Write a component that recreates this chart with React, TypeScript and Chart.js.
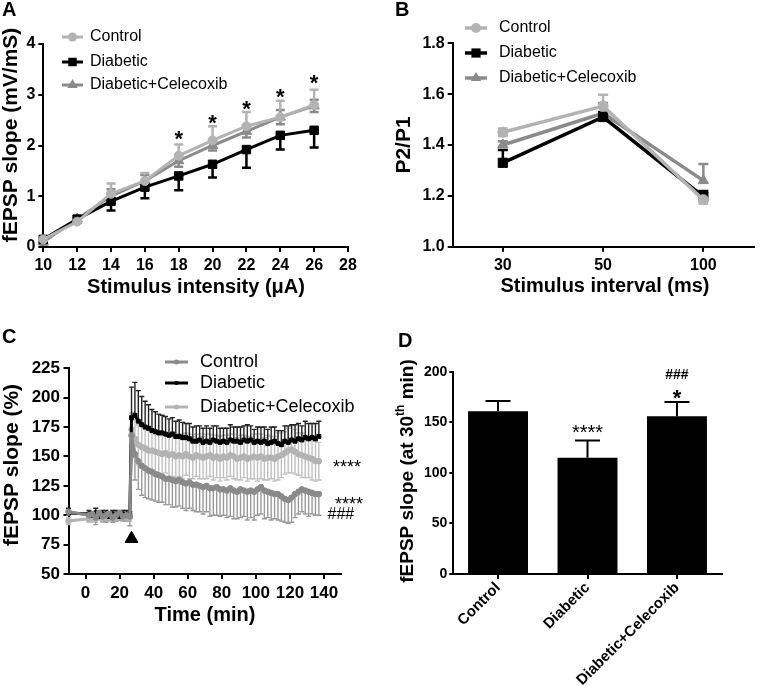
import React, { useEffect, useRef } from 'react';
import { Chart, registerables } from 'chart.js';
Chart.register(...registerables);

const FF = '"Liberation Sans", Arial, Helvetica, sans-serif';

// ---------------- Panel A data ----------------
const intensityA = [10, 12, 14, 16, 18, 20, 22, 24, 26];
const controlA = [0.15, 0.5, 1.05, 1.3, 1.8, 2.1, 2.38, 2.56, 2.8];
const controlErrA = [0.06, 0.06, 0.2, 0.16, 0.22, 0.28, 0.28, 0.32, 0.3];
const diabeticA = [0.15, 0.55, 0.9, 1.18, 1.4, 1.63, 1.92, 2.2, 2.3];
const diabeticErrA = [0.05, 0.06, 0.18, 0.22, 0.28, 0.26, 0.36, 0.28, 0.34];
const celecoxibA = [0.1, 0.55, 1.0, 1.3, 1.7, 2.0, 2.28, 2.56, 2.78];
const celecoxibErrA = [0.05, 0.05, 0.14, 0.12, 0.12, 0.1, 0.12, 0.14, 0.12];
const xTicksA = [10, 12, 14, 16, 18, 20, 22, 24, 26, 28];
const yTicksA = [0, 1, 2, 3, 4];
const starXA = [18, 20, 22, 24, 26];
const starYA = [2.24, 2.56, 2.83, 3.06, 3.34];

// ---------------- Panel B data ----------------
const intervalsB = ['30', '50', '100'];
const controlB = [1.45, 1.553, 1.185];
const controlErrB = [0.015, 0.045, 0.015];
const diabeticB = [1.33, 1.51, 1.197];
const diabeticErrB = [0.05, 0.02, 0.022];
const celecoxibB = [1.4, 1.525, 1.26];
const celecoxibErrB = [0.015, 0.04, 0.065];
const yTicksB = [1.0, 1.2, 1.4, 1.6, 1.8];

// ---------------- Panel C data ----------------
const timesC = [
  -10, 2, 4, 6, 8, 10, 12, 14, 16, 18, 20, 22, 24, 26,
  27, 29, 31, 33, 35, 37, 39, 41, 43, 45, 47, 49, 51, 53, 55, 57, 59, 61, 63, 65,
  67, 69, 71, 73, 75, 77, 79, 81, 83, 85, 87, 89, 91, 93, 95, 97, 99, 101, 103, 105,
  107, 109, 111, 113, 115, 117, 119, 121, 123, 125, 127, 129, 131, 133, 135, 137,
];
const controlC = [
  103, 100, 101, 98, 102, 99, 100, 101, 98, 100, 102, 99, 100, 99,
  168, 152, 146, 142, 140, 138, 137, 135, 134, 133, 131, 131, 130, 129, 130, 128, 127, 128, 126, 126,
  125, 124, 125, 123, 123, 124, 122, 122, 121, 123, 121, 120, 122, 121, 120, 121, 120, 122, 124, 121,
  120, 119, 118, 118, 116, 114, 113, 115, 118, 120, 122, 121, 120, 119, 118, 118,
];
const controlErrC = [
  3, 5, 4, 6, 5, 4, 6, 5, 4, 5, 6, 4, 5, 8,
  18, 22, 24, 25, 25, 24, 24, 23, 23, 22, 22, 22, 23, 22, 22, 22, 23, 22, 22, 23,
  22, 23, 22, 24, 23, 24, 23, 22, 23, 24, 24, 23, 24, 22, 24, 23, 24, 22, 23, 24,
  22, 23, 21, 22, 21, 20, 20, 21, 20, 19, 19, 20, 21, 18, 18, 18,
];
const diabeticC = [
  102, 101, 100, 102, 99, 101, 100, 99, 101, 100, 99, 101, 100, 100,
  183, 185, 180, 177, 175, 174, 172, 171, 170, 170, 169, 168, 169, 167, 167, 166, 166, 165, 163, 163,
  164, 162, 163, 162, 164, 163, 162, 163, 162, 164, 163, 163, 162, 164, 163, 164, 162, 163, 162, 163,
  161, 162, 163, 161, 160, 163, 162, 164, 163, 165, 164, 166, 165, 166, 165, 167,
];
const diabeticErrC = [
  4, 3, 3, 4, 3, 3, 4, 3, 3, 4, 3, 3, 4, 3,
  26, 28, 26, 24, 22, 20, 18, 17, 16, 15, 15, 14, 14, 13, 14, 13, 12, 13, 12, 13,
  12, 12, 13, 12, 12, 13, 12, 11, 12, 13, 12, 12, 13, 12, 14, 12, 11, 12, 13, 12,
  12, 13, 12, 11, 12, 13, 14, 13, 14, 13, 12, 14, 13, 12, 13, 13,
];
const celecoxibC = [
  95, 97, 98, 97, 99, 98, 99, 98, 100, 98, 99, 100, 98, 98,
  173, 165, 160, 158, 157, 155, 155, 154, 153, 152, 153, 151, 152, 150, 151, 150, 152, 150, 149, 151,
  150, 149, 150, 151, 149, 150, 148, 150, 149, 151, 150, 148, 149, 150, 148, 149, 150, 149, 150, 148,
  149, 149, 148, 150, 151, 153, 155, 156, 154, 152, 151, 150, 149, 148, 146, 146,
];
const celecoxibErrC = [
  3, 3, 4, 3, 3, 4, 3, 3, 4, 3, 3, 4, 3, 3,
  14, 16, 17, 18, 18, 17, 18, 17, 18, 18, 17, 18, 19, 18, 18, 19, 18, 19, 18, 18,
  19, 18, 19, 18, 19, 18, 19, 18, 19, 18, 19, 18, 19, 18, 19, 18, 19, 20, 19, 18,
  19, 18, 19, 20, 19, 18, 19, 20, 19, 18, 19, 18, 17, 18, 17, 16,
];
const xTicksC = [0, 20, 40, 60, 80, 100, 120, 140];
const yTicksC = [50, 75, 100, 125, 150, 175, 200, 225];
const stimulusMarkC = { x: 27, y: 80 };

// ---------------- Panel D data ----------------
const groupsD = ['Control', 'Diabetic', 'Diabetic+Celecoxib'];
const meanD = [161, 115, 156];
const errD = [10, 17, 14];
const yTicksD = [0, 50, 100, 150, 200];

// ---------------- helpers ----------------
function drawMarker(ctx: CanvasRenderingContext2D, style: string, x: number, y: number, r: number, color: string) {
  ctx.fillStyle = color;
  ctx.beginPath();
  if (style === 'rect') {
    const s = Math.SQRT1_2 * r;
    ctx.rect(x - s, y - s, 2 * s, 2 * s);
  } else if (style === 'triangle') {
    let a = 0;
    for (let k = 0; k < 3; k++) {
      const px = x + Math.sin(a) * r;
      const py = y - Math.cos(a) * r;
      if (k === 0) ctx.moveTo(px, py);
      else ctx.lineTo(px, py);
      a += (2 * Math.PI) / 3;
    }
    ctx.closePath();
  } else {
    ctx.arc(x, y, r, 0, Math.PI * 2);
  }
  ctx.fill();
}

function drawErrorBars(chart: any) {
  const ctx = chart.ctx;
  const ys = chart.scales.y;
  const dss = chart.data.datasets;
  for (let di = dss.length - 1; di >= 0; di--) {
    const ds: any = dss[di];
    if (!ds.errors) continue;
    const meta = chart.getDatasetMeta(di);
    ctx.save();
    ctx.strokeStyle = ds.errColor || ds.borderColor;
    ctx.lineWidth = ds.errWidth || 1;
    const cap = ds.capWidth || 6;
    ds.errors.forEach((e: number, i: number) => {
      const el = meta.data[i];
      if (!el) return;
      const raw = ds.data[i];
      const v = typeof raw === 'object' ? raw.y : raw;
      const x = el.x;
      const yc = ys.getPixelForValue(v);
      const ends: number[] = [];
      if (ds.errDir !== 'down') ends.push(ys.getPixelForValue(v + e));
      if (ds.errDir !== 'up') ends.push(ys.getPixelForValue(v - e));
      ends.forEach((ye) => {
        ctx.beginPath();
        ctx.moveTo(x, yc);
        ctx.lineTo(x, ye);
        ctx.moveTo(x - cap / 2, ye);
        ctx.lineTo(x + cap / 2, ye);
        ctx.stroke();
      });
    });
    ctx.restore();
  }
}

const errorsBefore = { id: 'errorsBefore', beforeDatasetsDraw: (c: any) => drawErrorBars(c) };
const errorsAfter = { id: 'errorsAfter', afterDatasetsDraw: (c: any) => drawErrorBars(c) };

type LegendCfg = { x0: number; x1: number; textX: number; ys: number[]; font: string };
function legendPlugin(cfg: LegendCfg) {
  return {
    id: 'customLegend',
    afterDraw(chart: any) {
      const ctx = chart.ctx;
      const dss = chart.data.datasets.filter((d: any) => d.inLegend);
      dss.forEach((ds: any, i: number) => {
        const y = cfg.ys[i];
        ctx.save();
        ctx.strokeStyle = ds.borderColor;
        ctx.lineWidth = ds.borderWidth;
        ctx.beginPath();
        ctx.moveTo(cfg.x0, y);
        ctx.lineTo(cfg.x1, y);
        ctx.stroke();
        drawMarker(ctx, ds.pointStyle, (cfg.x0 + cfg.x1) / 2, y, ds.legendRadius ?? ds.pointRadius, ds.pointBackgroundColor);
        ctx.fillStyle = '#000';
        ctx.font = cfg.font;
        ctx.textAlign = 'left';
        ctx.textBaseline = 'middle';
        ctx.fillText(ds.label, cfg.textX, y);
        ctx.restore();
      });
    },
  };
}

type Part = { text: string; font: string; dy?: number };
type TextItem = {
  text?: string;
  parts?: Part[];
  x: number;
  y: number;
  font?: string;
  align?: CanvasTextAlign;
  baseline?: CanvasTextBaseline;
  rotate?: number;
};
function textPlugin(items: TextItem[]) {
  return {
    id: 'texts',
    afterDraw(chart: any) {
      const ctx = chart.ctx;
      items.forEach((t) => {
        ctx.save();
        ctx.translate(t.x, t.y);
        if (t.rotate) ctx.rotate(t.rotate);
        ctx.fillStyle = '#000';
        if (t.parts) {
          let total = 0;
          t.parts.forEach((p) => {
            ctx.font = p.font;
            total += ctx.measureText(p.text).width;
          });
          let cx = -total / 2;
          ctx.textAlign = 'left';
          ctx.textBaseline = 'middle';
          t.parts.forEach((p) => {
            ctx.font = p.font;
            ctx.fillText(p.text, cx, p.dy || 0);
            cx += ctx.measureText(p.text).width;
          });
        } else {
          ctx.font = t.font;
          ctx.textAlign = t.align || 'center';
          ctx.textBaseline = t.baseline || 'middle';
          ctx.fillText(t.text, 0, 0);
        }
        ctx.restore();
      });
    },
  };
}

type Ann = { text: string; x: number; y: number; size: number; bold?: boolean };
function annotationPlugin(anns: Ann[]) {
  return {
    id: 'annotations',
    afterDraw(chart: any) {
      const ctx = chart.ctx;
      const xs = chart.scales.x;
      const ys = chart.scales.y;
      anns.forEach((a) => {
        const px = xs.getPixelForValue(a.x);
        const isStar = /^\*+$/.test(a.text);
        const py = ys.getPixelForValue(a.y) + (isStar ? 0.58 : 0.36) * a.size;
        ctx.save();
        ctx.fillStyle = '#000';
        ctx.font = `${a.bold ? 'bold ' : ''}${a.size}px ${FF}`;
        ctx.textAlign = 'center';
        ctx.textBaseline = 'alphabetic';
        ctx.fillText(a.text, px, py);
        ctx.restore();
      });
    },
  };
}

function gridCfg(tickLength: number) {
  return { display: true, drawOnChartArea: false, drawTicks: true, tickLength, color: '#000', lineWidth: 2 };
}
const borderCfg = { display: true, color: '#000', width: 2 };

function linearAxis(opts: {
  min: number; max: number; ticks: number[]; size: number; fit: number; axis: 'x' | 'y';
  tickLength?: number; padding?: number; fmt?: (v: number) => string;
}) {
  return {
    type: 'linear',
    min: opts.min,
    max: opts.max,
    afterBuildTicks: (s: any) => {
      s.ticks = opts.ticks.map((v) => ({ value: v }));
    },
    afterFit: (s: any) => {
      if (opts.axis === 'x') s.height = opts.fit;
      else s.width = opts.fit;
    },
    grid: gridCfg(opts.tickLength ?? 5),
    border: borderCfg,
    ticks: {
      color: '#000',
      font: { family: FF, size: opts.size, weight: 'bold' },
      padding: opts.padding ?? 3,
      autoSkip: false,
      maxRotation: 0,
      callback: (v: any) => (opts.fmt ? opts.fmt(Number(v)) : String(v)),
    },
  };
}

function ChartCanvas(props: { left: number; top: number; width: number; height: number; build: () => any }) {
  const ref = useRef<HTMLCanvasElement>(null);
  useEffect(() => {
    const chart = new Chart(ref.current as HTMLCanvasElement, props.build());
    return () => chart.destroy();
  }, []);
  return (
    <canvas
      ref={ref}
      width={props.width}
      height={props.height}
      style={{ position: 'absolute', left: props.left, top: props.top, width: props.width, height: props.height }}
    />
  );
}

const baseOptions = {
  responsive: false,
  animation: false,
  events: [],
  plugins: { legend: { display: false }, tooltip: { enabled: false } },
};

const LIGHT = '#b3b3b3';
const MID = '#8a8a8a';

// ---------------- Panel A ----------------
function buildA() {
  const mk = (label: string, data: number[], color: string, style: string, r: number, err: number[], dir: string) => ({
    label, data: intensityA.map((x, i) => ({ x, y: data[i] })),
    borderColor: color, backgroundColor: color, pointBackgroundColor: color, pointBorderColor: color,
    borderWidth: 3, pointStyle: style, pointRadius: r, pointBorderWidth: 1, tension: 0, clip: false,
    errors: err, errDir: dir, errWidth: 2.5, capWidth: 9, inLegend: true,
  });
  return {
    type: 'line',
    data: {
      datasets: [
        mk('Control', controlA, LIGHT, 'circle', 4.5, controlErrA, 'up'),
        mk('Diabetic', diabeticA, '#000', 'rect', 6, diabeticErrA, 'down'),
        mk('Diabetic+Celecoxib', celecoxibA, MID, 'triangle', 6, celecoxibErrA, 'both'),
      ],
    },
    options: {
      ...baseOptions,
      layout: { padding: { left: 0, top: 44, right: 32, bottom: 0 } },
      scales: {
        x: linearAxis({ min: 10, max: 28, ticks: xTicksA, size: 16, fit: 73, axis: 'x', padding: 4 }),
        y: linearAxis({ min: 0, max: 4, ticks: yTicksA, size: 16, fit: 43.3, axis: 'y', padding: 3 }),
      },
    },
    plugins: [
      errorsBefore,
      legendPlugin({ x0: 62, x1: 83, textX: 90, ys: [37, 62, 85], font: `16px ${FF}` }),
      annotationPlugin(starXA.map((x, i) => ({ text: '*', x, y: starYA[i], size: 22, bold: true }))),
      textPlugin([
        { text: 'A', x: 2, y: 16, font: `bold 20px ${FF}`, align: 'left', baseline: 'alphabetic' },
        { text: 'Stimulus intensity (μA)', x: 196, y: 287, font: `bold 20px ${FF}` },
        { text: 'fEPSP slope (mV/mS)', x: 11, y: 135, font: `bold 21px ${FF}`, rotate: -Math.PI / 2 },
      ]),
    ],
  };
}

// ---------------- Panel B ----------------
function buildB() {
  const mk = (label: string, data: number[], color: string, style: string, r: number, err: number[], dir: string) => ({
    label, data,
    borderColor: color, backgroundColor: color, pointBackgroundColor: color, pointBorderColor: color,
    borderWidth: 3.5, pointStyle: style, pointRadius: r, pointBorderWidth: 1, tension: 0, clip: false,
    errors: err, errDir: dir, errWidth: 2.5, capWidth: 10, inLegend: true,
  });
  return {
    type: 'line',
    data: {
      labels: intervalsB,
      datasets: [
        mk('Control', controlB, LIGHT, 'circle', 5, controlErrB, 'both'),
        mk('Diabetic', diabeticB, '#000', 'rect', 6.5, diabeticErrB, 'up'),
        mk('Diabetic+Celecoxib', celecoxibB, MID, 'triangle', 6, celecoxibErrB, 'up'),
      ],
    },
    options: {
      ...baseOptions,
      layout: { padding: { left: 0, top: 43.3, right: 1, bottom: 0 } },
      scales: {
        x: {
          type: 'category',
          offset: true,
          afterFit: (s: any) => { s.height = 73.3; },
          grid: { ...gridCfg(5), offset: false },
          border: borderCfg,
          ticks: { color: '#000', font: { family: FF, size: 16, weight: 'bold' }, padding: 4, maxRotation: 0 },
        },
        y: linearAxis({ min: 1.0, max: 1.8, ticks: yTicksB, size: 16, fit: 72.7, axis: 'y', padding: 3, fmt: (v) => v.toFixed(1) }),
      },
    },
    plugins: [
      errorsBefore,
      legendPlugin({ x0: 85, x1: 107, textX: 119, ys: [28, 53, 78], font: `16px ${FF}` }),
      textPlugin([
        { text: 'B', x: 15, y: 16, font: `bold 20px ${FF}`, align: 'left', baseline: 'alphabetic' },
        { text: 'Stimulus interval (ms)', x: 225, y: 286, font: `bold 20px ${FF}` },
        { text: 'P2/P1', x: 24, y: 145, font: `bold 21px ${FF}`, rotate: -Math.PI / 2 },
      ]),
    ],
  };
}

// ---------------- Panel C ----------------
function buildC() {
  const mk = (label: string, data: number[], color: string, errColor: string, style: string, err: number[], dir: string) => ({
    label, data: timesC.map((x, i) => ({ x, y: data[i] })),
    borderColor: color, backgroundColor: color, pointBackgroundColor: color, pointBorderColor: color,
    borderWidth: 3, pointStyle: style, pointRadius: 2.8, pointBorderWidth: 1, tension: 0, clip: false,
    errors: err, errDir: dir, errColor, errWidth: 1.4, capWidth: 5, inLegend: true, legendRadius: 2.5,
  });
  return {
    type: 'line',
    data: {
      datasets: [
        mk('Control', controlC, MID, '#9a9a9a', 'circle', controlErrC, 'down'),
        mk('Diabetic', diabeticC, '#000', '#222', 'rect', diabeticErrC, 'up'),
        mk('Diabetic+Celecoxib', celecoxibC, LIGHT, '#c0c0c0', 'circle', celecoxibErrC, 'both'),
        {
          label: 'stimulus', data: [stimulusMarkC], showLine: false, pointStyle: 'triangle', pointRadius: 7.5,
          pointBackgroundColor: '#000', pointBorderColor: '#000', borderColor: '#000', clip: false,
        },
      ],
    },
    options: {
      ...baseOptions,
      layout: { padding: { left: 0, top: 48.3, right: 49, bottom: 0 } },
      scales: {
        x: linearAxis({ min: -10, max: 150, ticks: xTicksC, size: 17, fit: 112, axis: 'x', padding: 4 }),
        y: linearAxis({ min: 50, max: 225, ticks: yTicksC, size: 17, fit: 68.5, axis: 'y', padding: 3.5 }),
      },
    },
    plugins: [
      errorsBefore,
      legendPlugin({ x0: 165, x1: 188, textX: 200, ys: [42, 63, 87], font: `18px ${FF}` }),
      annotationPlugin([
        { text: '****', x: 153.5, y: 144.4, size: 18 },
        { text: '****', x: 154.7, y: 113.7, size: 18 },
        { text: '###', x: 149.9, y: 101.7, size: 16 },
      ]),
      textPlugin([
        { text: 'C', x: 2, y: 23, font: `bold 20px ${FF}`, align: 'left', baseline: 'alphabetic' },
        { text: 'Time (min)', x: 205, y: 295, font: `bold 20px ${FF}` },
        { text: 'fEPSP slope (%)', x: 12, y: 145, font: `bold 21px ${FF}`, rotate: -Math.PI / 2 },
      ]),
    ],
  };
}

// ---------------- Panel D ----------------
function buildD() {
  return {
    type: 'bar',
    data: {
      labels: groupsD,
      datasets: [
        {
          label: 'fEPSP slope', data: meanD, backgroundColor: '#000', borderColor: '#000', borderWidth: 0,
          categoryPercentage: 1, barPercentage: 0.67,
          errors: errD, errDir: 'up', errColor: '#000', errWidth: 2, capWidth: 25,
        },
      ],
    },
    options: {
      ...baseOptions,
      layout: { padding: { left: 0, top: 51.7, right: 39.3, bottom: 0 } },
      scales: {
        x: {
          type: 'category',
          offset: true,
          afterFit: (s: any) => { s.height = 112; },
          grid: { ...gridCfg(5), offset: false },
          border: borderCfg,
          ticks: {
            color: '#000', font: { family: FF, size: 15, weight: 'bold' }, padding: 0,
            minRotation: 45, maxRotation: 45, autoSkip: false,
          },
        },
        y: linearAxis({ min: 0, max: 200, ticks: yTicksD, size: 14, fit: 63.3, axis: 'y', tickLength: 4, padding: 2 }),
      },
    },
    plugins: [
      errorsAfter,
      annotationPlugin([
        { text: '****', x: 1, y: 145.3, size: 20 },
        { text: '*', x: 2, y: 179.2, size: 22, bold: true },
        { text: '###', x: 2, y: 197.7, size: 14, bold: true },
      ]),
      textPlugin([
        { text: 'D', x: 8, y: 27, font: `bold 20px ${FF}`, align: 'left', baseline: 'alphabetic' },
        {
          parts: [
            { text: 'fEPSP slope (at 30', font: `bold 19px ${FF}` },
            { text: 'th', font: `bold 12px ${FF}`, dy: -7 },
            { text: ' min)', font: `bold 19px ${FF}` },
          ],
          x: 18, y: 151, rotate: -Math.PI / 2,
        },
      ]),
    ],
  };
}

export default function App() {
  return (
    <div style={{ position: 'absolute', left: 0, top: 0, width: 761, height: 686, background: '#fff', overflow: 'hidden' }}>
      <ChartCanvas left={0} top={0} width={380} height={320} build={buildA} />
      <ChartCanvas left={380} top={0} width={381} height={320} build={buildB} />
      <ChartCanvas left={0} top={320} width={390} height={366} build={buildC} />
      <ChartCanvas left={390} top={320} width={371} height={366} build={buildD} />
    </div>
  );
}
